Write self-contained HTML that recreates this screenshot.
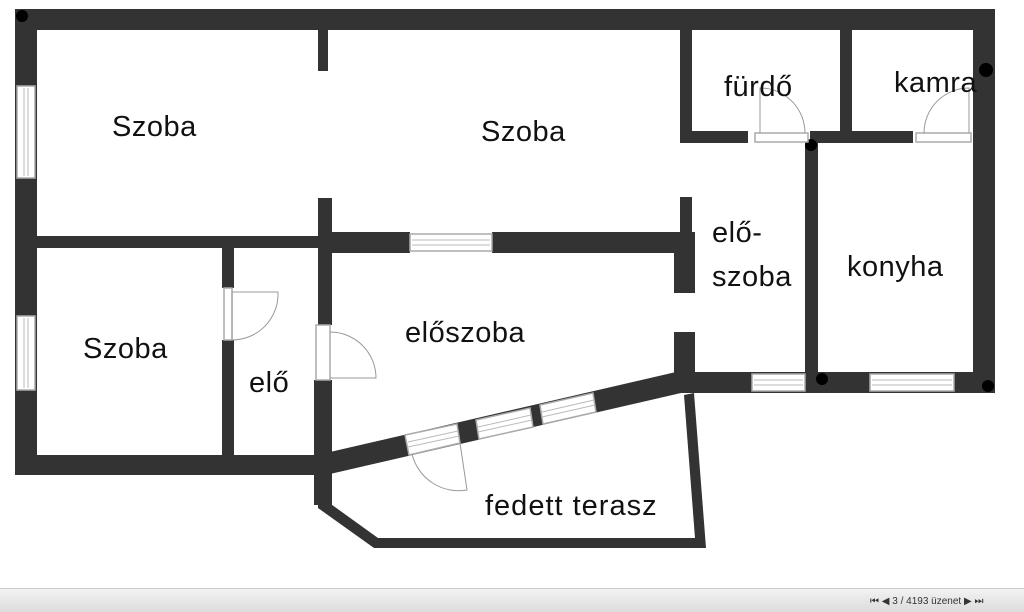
<!DOCTYPE html>
<html><head><meta charset="utf-8"><style>
html,body{margin:0;padding:0;background:#fff;width:1024px;height:612px;overflow:hidden}
svg{display:block}
text{font-family:"Liberation Sans","DejaVu Sans",sans-serif;fill:#111}
</style></head><body>
<svg width="1024" height="612" viewBox="0 0 1024 612">
<g fill="#333">
<rect x="15" y="9" width="980" height="21"/>
<rect x="15" y="9" width="22" height="466"/>
<rect x="973" y="9" width="22" height="384"/>
<rect x="318" y="9" width="10" height="62"/>
<rect x="37" y="236" width="283" height="12"/>
<rect x="318" y="232" width="92" height="21"/>
<rect x="492" y="232" width="190" height="21"/>
<rect x="318" y="198" width="14" height="127"/>
<rect x="314" y="380" width="18" height="125"/>
<rect x="15" y="455" width="315" height="20"/>
<rect x="222" y="248" width="12" height="40"/>
<rect x="222" y="340" width="12" height="115"/>
<rect x="680" y="30" width="12" height="113"/>
<rect x="680" y="131" width="68" height="12"/>
<rect x="810" y="131" width="103" height="12"/>
<rect x="840" y="30" width="12" height="101"/>
<rect x="805" y="143" width="13" height="250"/>
<rect x="680" y="197" width="12" height="40"/>
<rect x="674" y="232" width="21" height="61"/>
<rect x="674" y="332" width="21" height="50"/>
<rect x="675" y="372" width="320" height="21"/>
<polygon points="330,452 676,372 681,393 330,474"/>
<polygon points="318,475 328,475 328,502 378,538 695,538 684,395 694,393 706,548 374,548 318,508"/>
<circle cx="22" cy="16" r="6" fill="#000"/>
<circle cx="811" cy="145" r="6" fill="#000"/>
<circle cx="822" cy="379" r="6" fill="#000"/>
<circle cx="988" cy="386" r="6" fill="#000"/>
<circle cx="986" cy="70" r="7" fill="#000"/>
</g>
<g fill="#fff" stroke="#aaa" stroke-width="1.5">
<rect x="17" y="86" width="18" height="92"/>
<rect x="17" y="316" width="18" height="74"/>
<rect x="410" y="234" width="82" height="17"/>
<rect x="752" y="374" width="53" height="17"/>
<rect x="870" y="374" width="84" height="17"/>
<rect x="755" y="133" width="53" height="9"/>
<rect x="916" y="133" width="55" height="9"/>
<rect x="224" y="288" width="8" height="52"/>
<rect x="316" y="325" width="14" height="55"/>
</g>
<g fill="#fff" stroke="#aaa" stroke-width="1.5">
<polygon points="405,435 457,424 460,443 409,455"/>
<polygon points="476,420 530,408 533,427 479,439"/>
<polygon points="540,405 593,393 596,412 543,424"/>
</g>
<g stroke="#bbb" stroke-width="1" fill="none">
<line x1="24" y1="88" x2="24" y2="176"/><line x1="28" y1="88" x2="28" y2="176"/>
<line x1="24" y1="318" x2="24" y2="388"/><line x1="28" y1="318" x2="28" y2="388"/>
<line x1="412" y1="240" x2="490" y2="240"/><line x1="412" y1="245" x2="490" y2="245"/>
<line x1="754" y1="380" x2="803" y2="380"/><line x1="754" y1="385" x2="803" y2="385"/>
<line x1="872" y1="380" x2="952" y2="380"/><line x1="872" y1="385" x2="952" y2="385"/>
<line x1="408" y1="442" x2="458" y2="431"/><line x1="408" y1="447" x2="459" y2="436"/>
<line x1="478" y1="427" x2="531" y2="415"/><line x1="478" y1="432" x2="532" y2="420"/>
<line x1="542" y1="412" x2="594" y2="400"/><line x1="542" y1="417" x2="595" y2="405"/>
</g>
<g stroke="#999" stroke-width="1" fill="none">
<path d="M232 340 L232 292 L278 292 A46 46 0 0 1 232 340"/>
<path d="M330 378 L376 378 A46 46 0 0 0 330 332"/>
<path d="M760 133 L760 88 A45 45 0 0 1 805 133"/>
<path d="M924 133 A45 45 0 0 1 969 88 L969 133"/>
<path d="M460 443 L467 490 A48 48 0 0 1 412 454"/>
</g>
<g font-size="29" letter-spacing="0.5">
<text x="112" y="136">Szoba</text>
<text x="481" y="141">Szoba</text>
<text x="724" y="96">fürdő</text>
<text x="894" y="92">kamra</text>
<text x="712" y="242">elő-</text>
<text x="712" y="286">szoba</text>
<text x="847" y="276">konyha</text>
<text x="83" y="358">Szoba</text>
<text x="249" y="392">elő</text>
<text x="405" y="342">előszoba</text>
<text x="485" y="515" letter-spacing="1">fedett terasz</text>
</g>
<defs><linearGradient id="g" x1="0" y1="0" x2="0" y2="1"><stop offset="0" stop-color="#f4f4f4"/><stop offset="1" stop-color="#dcdcdc"/></linearGradient></defs>
<rect x="0" y="588" width="1024" height="24" fill="url(#g)"/>
<line x1="0" y1="588.5" x2="1024" y2="588.5" stroke="#ccc"/>
<text x="870" y="604" font-size="10" style="fill:#333">⏮ ◀  3 / 4193 üzenet  ▶ ⏭</text>
</svg>
</body></html>
